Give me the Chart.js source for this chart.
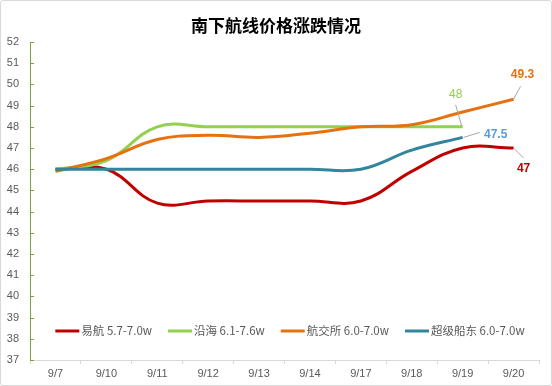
<!DOCTYPE html>
<html>
<head>
<meta charset="utf-8">
<script src="https://cdn.jsdelivr.net/npm/chart.js@4"></script>
<style>
  body { margin: 0; background: #fff; }
  #box { width: 552px; height: 386px; box-sizing: border-box; border: 1px solid #d9d9d9; border-radius: 3px; }
  canvas { display: block; }
</style>
</head>
<body>
<div id="box"><canvas id="c" width="550" height="384"></canvas></div>
<script>
// values
const days = ['9/7', '9/10', '9/11', '9/12', '9/13', '9/14', '9/17', '9/18', '9/19', '9/20'];
const yihang   = [46, 46, 44.4, 44.5, 44.5, 44.5, 44.5, 45.9, 47, 47];
const yanhai   = [46, 46.4, 48, 48, 48, 48, 48, 48, 48, null];
const hangjiao = [45.9, 46.5, 47.4, 47.6, 47.5, 47.7, 48, 48.1, 48.7, 49.3];
const chuandong = [46, 46, 46, 46, 46, 46, 46, 46.9, 47.5, null];
const names = ['易航 5.7-7.0w', '沿海 6.1-7.6w', '航交所 6.0-7.0w', '超级船东 6.0-7.0w'];
const colors = ['#C00000', '#92D050', '#E8710F', '#31859C'];
const yMin = 37, yMax = 52;

const NUM_FONT = "'Liberation Sans', Arial, sans-serif";
const CJK_FONT = "'Noto Sans CJK SC', sans-serif";

// end labels: [text colour, bold, leader start dx,dy, leader end dx,dy, text dx,dy]
const endLabels = [
  ['#C00000', true, 0, 0, 10, 10, 10, 21],
  ['#92D050', false, -1, -1, -7, -22, -7, -32],
  ['#E8710F', true, 0, 0, 7, -13, 9, -25],
  ['#5B9BD5', true, 1, 0, 17, -5, 33, -3]
];

const extras = {
  id: 'extras',
  afterDraw(chart) {
    const ctx = chart.ctx;
    const area = chart.chartArea;
    const y = chart.scales.y;
    ctx.save();

    // title
    ctx.fillStyle = '#000';
    ctx.font = 'bold 17px ' + CJK_FONT;
    ctx.textAlign = 'center';
    ctx.textBaseline = 'middle';
    ctx.fillText('南下航线价格涨跌情况', 275, 25);

    // inward tick marks on the y axis
    ctx.strokeStyle = '#7F9F45';
    ctx.lineWidth = 1;
    y.ticks.forEach(t => {
      const py = Math.round(y.getPixelForValue(t.value)) + 0.5;
      ctx.beginPath();
      ctx.moveTo(area.left, py);
      ctx.lineTo(area.left + 4, py);
      ctx.stroke();
    });

    // end-of-line labels
    chart.data.datasets.forEach((ds, i) => {
      const meta = chart.getDatasetMeta(i);
      let idx = ds.data.length - 1;
      while (ds.data[idx] == null) idx--;
      const pt = meta.data[idx];
      const L = endLabels[i];
      ctx.strokeStyle = '#a6a6a6';
      ctx.beginPath();
      ctx.moveTo(pt.x + L[2], pt.y + L[3]);
      ctx.lineTo(pt.x + L[4], pt.y + L[5]);
      ctx.stroke();
      ctx.fillStyle = L[0];
      ctx.font = (L[1] ? 'bold ' : '') + '12px ' + NUM_FONT;
      ctx.fillText(String(ds.data[idx]), pt.x + L[6], pt.y + L[7]);
    });

    // legend inside the plot
    ctx.font = '11.5px ' + CJK_FONT;
    ctx.textAlign = 'left';
    const sample = 24, gapText = 2, gapItem = 16;
    const widths = names.map(n => sample + gapText + ctx.measureText(n).width);
    const total = widths.reduce((a, b) => a + b, 0) + gapItem * (names.length - 1);
    let x = 289 - total / 2;
    const ly = 330;
    names.forEach((n, i) => {
      ctx.strokeStyle = colors[i];
      ctx.lineWidth = 3;
      ctx.beginPath();
      ctx.moveTo(x, ly);
      ctx.lineTo(x + sample, ly);
      ctx.stroke();
      ctx.fillStyle = '#595959';
      ctx.fillText(n, x + sample + gapText, ly);
      x += widths[i] + gapItem;
    });
    ctx.restore();
  }
};

const series = [yihang, yanhai, hangjiao, chuandong];

new Chart(document.getElementById('c'), {
  type: 'line',
  data: {
    labels: days,
    datasets: series.map((d, i) => ({
      label: names[i],
      data: d,
      borderColor: colors[i],
      backgroundColor: colors[i],
      borderWidth: 3,
      pointRadius: 0,
      tension: 0.4,
      fill: false,
      order: 3 - i
    }))
  },
  options: {
    responsive: false,
    animation: false,
    devicePixelRatio: 1,
    layout: { padding: { top: 41, right: 12, bottom: 0, left: 0 } },
    plugins: { legend: { display: false }, title: { display: false }, tooltip: { enabled: false } },
    scales: {
      x: {
        offset: true,
        grid: { drawOnChartArea: false, offset: true, tickLength: 4, color: '#d9d9d9' },
        border: { color: '#d9d9d9' },
        ticks: { color: '#595959', font: { size: 11, family: NUM_FONT }, padding: 3, maxRotation: 0 },
        afterFit(s) { s.height = 25; }
      },
      y: {
        min: yMin,
        max: yMax,
        grid: { display: true, drawOnChartArea: false, drawTicks: false },
        border: { color: '#7F9F45' },
        ticks: { stepSize: 1, color: '#595959', font: { size: 11, family: NUM_FONT }, padding: 11 },
        afterFit(s) { s.width = 29; }
      }
    }
  },
  plugins: [extras]
});
</script>
</body>
</html>
